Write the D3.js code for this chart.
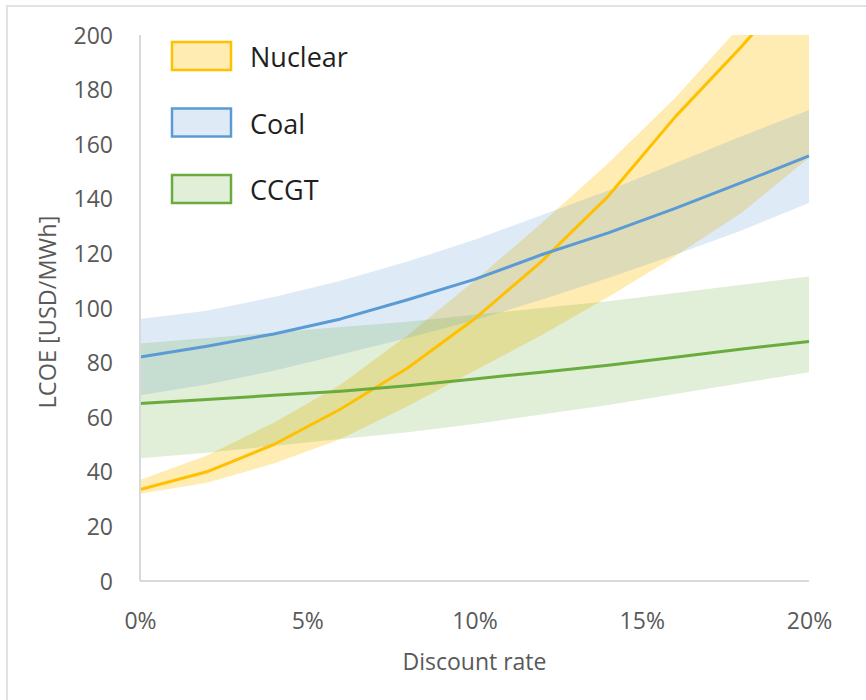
<!DOCTYPE html>
<html>
<head>
<meta charset="utf-8">
<script src="https://cdn.jsdelivr.net/npm/d3@7"></script>
<style>
  html, body { margin: 0; padding: 0; background: #fff; }
  svg { display: block; font-family: "Open Sans", "Liberation Sans", sans-serif; }
</style>
</head>
<body>
<svg id="chart" width="866" height="700"></svg>
<script>
// Discount rate (%) sampled every 2 points
const rates = [0, 2, 4, 6, 8, 10, 12, 14, 16, 18, 20];

// LCOE in USD/MWh: central estimate with low/high range
const nuclearMid  = [33.5, 40, 50, 63, 78, 96, 117, 141, 170, 196, 224];
const nuclearLow  = [32, 36, 43, 52, 64, 77, 90, 104, 119, 135, 155];
const nuclearHigh = [37, 46, 58, 72, 90, 110, 131, 153, 177, 204, 235];

const coalMid  = [82, 86, 90.5, 96, 103, 110.5, 119.5, 127.5, 136.5, 146, 155.7];
const coalLow  = [68, 72, 77, 83, 89, 95.5, 103, 111, 119.5, 128.5, 138.5];
const coalHigh = [96, 99, 104, 110, 117, 125, 134, 143, 153, 163, 172.5];

const ccgtMid  = [65, 66.5, 68, 69.5, 71.5, 74, 76.5, 79, 82, 85, 87.7];
const ccgtLow  = [45, 47, 49.5, 52, 54.5, 57.5, 61, 64.5, 68.5, 72.5, 76.5];
const ccgtHigh = [87, 89, 91, 93, 95, 97.5, 100, 102.5, 105.5, 108.5, 111.5];

const seriesNames = ["Nuclear", "Coal", "CCGT"];
const xTicks = [0, 5, 10, 15, 20];
const yTicks = [0, 20, 40, 60, 80, 100, 120, 140, 160, 180, 200];

const series = [
  { name: seriesNames[0], mid: nuclearMid, low: nuclearLow, high: nuclearHigh, color: "#FFC000", fillOpacity: 0.3 },
  { name: seriesNames[1], mid: coalMid, low: coalLow, high: coalHigh, color: "#5B9BD5", fillOpacity: 0.2 },
  { name: seriesNames[2], mid: ccgtMid, low: ccgtLow, high: ccgtHigh, color: "#6AAB3E", fillOpacity: 0.2 }
];

const svg = d3.select("#chart");

// light outer frame
svg.append("rect")
  .attr("x", 7).attr("y", 6).attr("width", 900).attr("height", 800)
  .attr("fill", "none").attr("stroke", "#E2E2E2").attr("stroke-width", 2);

const plotLeft = 140, plotRight = 809, plotTop = 35, plotBottom = 581;
const x = d3.scaleLinear().domain([0, 20]).range([plotLeft, plotRight]);
const y = d3.scaleLinear().domain([0, 200]).range([plotBottom, plotTop]);

svg.append("clipPath").attr("id", "plotClip")
  .append("rect").attr("x", plotLeft).attr("y", plotTop)
  .attr("width", plotRight - plotLeft + 2).attr("height", plotBottom - plotTop);

const plot = svg.append("g").attr("clip-path", "url(#plotClip)");

const area = d3.area()
  .x((d, i) => x(rates[i]))
  .y0(d => y(d[0]))
  .y1(d => y(d[1]));

const line = d3.line()
  .x((d, i) => x(rates[i]))
  .y(d => y(d));

// shaded ranges
series.forEach(s => {
  plot.append("path")
    .datum(rates.map((r, i) => [s.low[i], s.high[i]]))
    .attr("d", area)
    .attr("fill", s.color)
    .attr("fill-opacity", s.fillOpacity);
});

// axes
const axisColor = "#D9D9D9";
svg.append("line")
  .attr("x1", plotLeft).attr("x2", plotLeft).attr("y1", plotTop).attr("y2", plotBottom)
  .attr("stroke", axisColor).attr("stroke-width", 2);
svg.append("line")
  .attr("x1", plotLeft).attr("x2", plotRight).attr("y1", plotBottom).attr("y2", plotBottom)
  .attr("stroke", axisColor).attr("stroke-width", 2);

// central lines
series.forEach(s => {
  plot.append("path")
    .datum(s.mid)
    .attr("d", line)
    .attr("fill", "none")
    .attr("stroke", s.color)
    .attr("stroke-width", 3)
    .attr("stroke-linejoin", "round");
});

// y tick labels
const yAxis = d3.axisLeft(y).tickValues(yTicks).tickSize(0).tickPadding(0);
const gy = svg.append("g").attr("transform", `translate(${plotLeft - 27},0)`).call(yAxis);
gy.select(".domain").remove();
gy.selectAll("text")
  .attr("font-size", 23)
  .attr("font-family", "\"Open Sans\", sans-serif")
  .attr("fill", "#595959")
  .attr("dy", "0.35em");

// x tick labels
const xAxis = d3.axisBottom(x).tickValues(xTicks).tickSize(0).tickPadding(0)
  .tickFormat(d => d + "%");
const gx = svg.append("g").attr("transform", `translate(0,${plotBottom + 40})`).call(xAxis);
gx.select(".domain").remove();
gx.selectAll("text")
  .attr("y", 0)
  .attr("dy", "0.35em")
  .attr("font-size", 23)
  .attr("font-family", "\"Open Sans\", sans-serif")
  .attr("fill", "#595959");

// axis titles
svg.append("text")
  .attr("x", (plotLeft + plotRight) / 2).attr("y", 662)
  .attr("dy", "0.35em")
  .attr("text-anchor", "middle")
  .attr("font-size", 23)
  .attr("fill", "#595959")
  .text("Discount rate");

svg.append("text")
  .attr("transform", `translate(48,${(plotTop + plotBottom) / 2 + 4}) rotate(-90)`)
  .attr("dy", "0.35em")
  .attr("text-anchor", "middle")
  .attr("font-size", 23.5)
  .attr("fill", "#595959")
  .text("LCOE [USD/MWh]");

// legend
const legend = svg.append("g");
series.forEach((s, i) => {
  const ly = 42 + i * 66.5;
  legend.append("rect")
    .attr("x", 172).attr("y", ly)
    .attr("width", 59).attr("height", 28)
    .attr("fill", d3.interpolateRgb("#ffffff", s.color)(s.fillOpacity))
    .attr("stroke", s.color)
    .attr("stroke-width", 2.5);
  legend.append("text")
    .attr("x", 250).attr("y", ly + 16)
    .attr("dy", "0.35em")
    .attr("font-size", 27)
    .attr("fill", "#1f1f1f")
    .text(s.name);
});
</script>
</body>
</html>
